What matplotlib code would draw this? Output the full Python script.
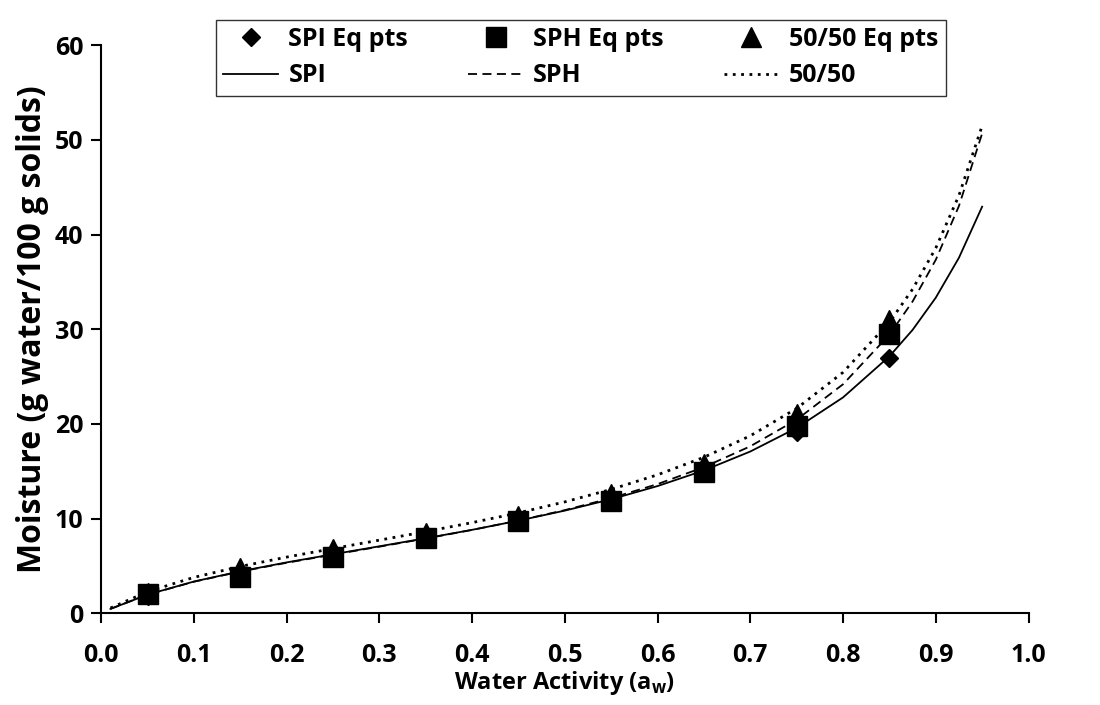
import matplotlib.pyplot as plt

plt.rcParams['font.family'] = ['Open Sans', 'DejaVu Sans']
plt.rcParams['font.weight'] = 'bold'

# equilibrium moisture points
aw_pts = [0.05, 0.15, 0.25, 0.35, 0.45, 0.55, 0.65, 0.75, 0.85]
spi_pts = [1.8, 4.2, 6.2, 8.2, 9.6, 12.0, 15.2, 19.2, 27.0]
sph_pts = [2.0, 3.8, 5.9, 8.0, 9.8, 11.9, 14.9, 19.8, 29.5]
mix_pts = [2.2, 4.8, 6.8, 8.5, 10.3, 12.6, 15.8, 21.0, 31.0]

# fitted isotherm curves
aw_fit = [0.01, 0.05, 0.10, 0.15, 0.20, 0.25, 0.30, 0.35, 0.40, 0.45, 0.50,
          0.55, 0.60, 0.65, 0.70, 0.75, 0.80, 0.85, 0.875, 0.90, 0.925, 0.95]
spi_fit = [0.47, 1.98, 3.36, 4.44, 5.38, 6.24, 7.08, 7.93, 8.82, 9.79, 10.85,
           12.05, 13.44, 15.09, 17.09, 19.58, 22.80, 27.14, 29.93, 33.33, 37.55, 42.94]
sph_fit = [0.47, 1.97, 3.34, 4.41, 5.34, 6.20, 7.04, 7.90, 8.81, 9.80, 10.90,
           12.17, 13.65, 15.44, 17.64, 20.45, 24.19, 29.42, 32.93, 37.33, 43.02, 50.67]
mix_fit = [0.56, 2.29, 3.80, 4.95, 5.94, 6.84, 7.73, 8.63, 9.58, 10.61, 11.77,
           13.09, 14.63, 16.48, 18.75, 21.64, 25.45, 30.73, 34.23, 38.57, 44.13, 51.48]

x_ticks = [0.0, 0.1, 0.2, 0.3, 0.4, 0.5, 0.6, 0.7, 0.8, 0.9, 1.0]
y_ticks = [0, 10, 20, 30, 40, 50, 60]

fig = plt.figure(figsize=(11, 7.05), dpi=100)
ax = fig.add_axes([0.092, 0.130, 0.843, 0.806])

l1, = ax.plot(aw_fit, spi_fit, color='black', lw=1.3, ls='-', label='SPI')
l2, = ax.plot(aw_fit, sph_fit, color='black', lw=1.3, ls=(0, (5, 3)), label='SPH')
l3, = ax.plot(aw_fit, mix_fit, color='black', lw=2.0, ls=(0, (1, 2)), label='50/50')

m3, = ax.plot(aw_pts, mix_pts, '^', color='black', ms=14, ls='none', label='50/50 Eq pts')
m1, = ax.plot(aw_pts, spi_pts, 'D', color='black', ms=9, ls='none', label='SPI Eq pts')
m2, = ax.plot(aw_pts, sph_pts, 's', color='black', ms=15, ls='none', label='SPH Eq pts')

ax.set_xlim(0, 1.0)
ax.set_ylim(0, 60)
ax.set_xticks(x_ticks)
ax.set_xticklabels(['%.1f' % v for v in x_ticks], fontsize=18, fontweight='bold')
ax.set_yticks(y_ticks)
ax.set_yticklabels([str(v) for v in y_ticks], fontsize=18, fontweight='bold')

for s in ['top', 'right']:
    ax.spines[s].set_visible(False)
for s in ['left', 'bottom']:
    ax.spines[s].set_linewidth(1.5)
ax.tick_params(direction='out', length=7, width=1.5)
ax.tick_params(axis='x', pad=14)
ax.tick_params(axis='y', pad=6)

ax.set_xlabel('Water Activity (a$_\\mathregular{w}$)', fontsize=17, fontweight='bold',
              labelpad=1)
ax.set_ylabel('Moisture (g water/100 g solids)', fontsize=23, fontweight='bold',
              labelpad=4)

leg = fig.legend([m1, l1, m2, l2, m3, l3],
                 ['SPI Eq pts', 'SPI', 'SPH Eq pts', 'SPH', '50/50 Eq pts', '50/50'],
                 ncol=3, loc='upper center', bbox_to_anchor=(0.528, 0.972),
                 fontsize=18, frameon=True, fancybox=False, handlelength=2.2,
                 handletextpad=0.4, columnspacing=2.4, borderpad=0.3,
                 labelspacing=0.45, borderaxespad=0)
leg.get_frame().set_edgecolor('black')
leg.get_frame().set_linewidth(1.0)

fig.savefig('out.png', dpi=100)
